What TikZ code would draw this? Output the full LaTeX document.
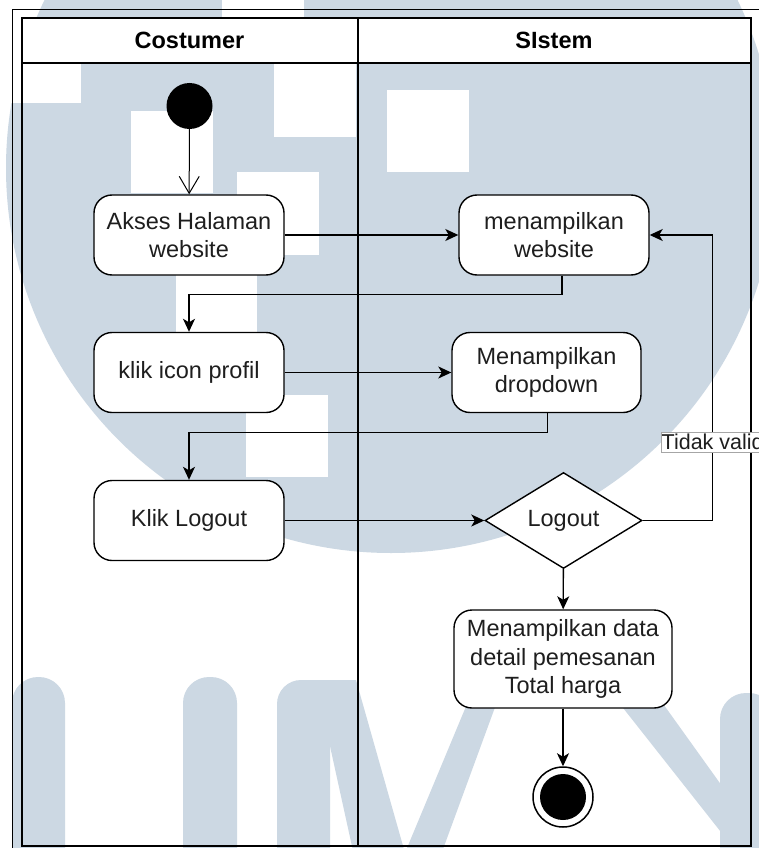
\documentclass[tikz,border=0pt]{standalone}
\usepackage{fontspec}
\setmainfont{Liberation Sans}
\usetikzlibrary{arrows.meta,shapes.geometric}
\definecolor{wmblue}{RGB}{204,216,227}
\definecolor{ink}{RGB}{30,30,30}
\begin{document}
\begin{tikzpicture}[x=1pt,y=-1pt,
  every node/.style={font=\fontsize{23.5}{28.2}\selectfont, text=ink},
  act/.style={draw=black, line width=1.4pt, fill=white, rounded corners=18pt,
    minimum width=190pt, minimum height=80pt, align=center, inner sep=0pt},
  decision/.style={diamond, draw=black, line width=1.4pt, fill=white,
    minimum width=157pt, minimum height=96pt, inner sep=0pt},
  startdot/.style={circle, fill=black, minimum size=46pt, inner sep=0pt},
  endring/.style={circle, draw=black, line width=1.5pt, fill=white, minimum size=60pt, inner sep=0pt},
  enddot/.style={circle, fill=black, minimum size=46pt, inner sep=0pt},
  hdr/.style={font=\bfseries\fontsize{23.5}{28}\selectfont, text=black},
  lbl/.style={font=\fontsize{21.5}{24}\selectfont, fill=white, draw=black!35,
    line width=0.6pt, inner xsep=0.5pt, inner ysep=2pt},
  flow/.style={draw=black, line width=1.4pt, -{Stealth[length=13pt,width=12pt,inset=3.5pt]}},
  openflow/.style={draw=black, line width=1pt, -{Straight Barb[length=17pt,width=20pt]}},
  frame/.style={draw=black, line width=2pt}
]
\useasboundingbox (0,0) rectangle (758,848);
\fill[white] (0,0) rectangle (758,848);

% faint logo watermark behind the diagram
\begin{scope}
  \fill[wmblue] (391,168) circle[radius=385pt];
  \fill[white] (-10,21) rectangle (81,103);
  \fill[white] (222,-60) rectangle (304,22);
  \fill[white] (274,55) rectangle (356,137);
  \fill[white] (131,111) rectangle (213,193);
  \fill[white] (387,90) rectangle (469,172);
  \fill[white] (237,172) rectangle (319,255);
  \fill[white] (176,255) rectangle (257,337);
  \fill[white] (246,395) rectangle (328,477);
  % letters U, M, N
  \fill[wmblue, rounded corners=26pt] (12,900) -- (12,677) -- (65,677) -- (65,900) -- cycle;
  \fill[wmblue, rounded corners=26pt] (183,900) -- (183,677) -- (237,677) -- (237,900) -- cycle;
  \fill[wmblue, rounded corners=24pt] (277,900) -- (277,680) -- (330,680) -- (330,900) -- cycle;
  \fill[wmblue] (300,680) -- (356,680) -- (407,860) -- (355,860) -- (328,737) -- (300,737) -- cycle;
  \fill[wmblue] (402,860) -- (477,680) -- (505,680) -- (439,860) -- cycle;
  \fill[wmblue] (601,680) -- (646,680) -- (775,860) -- (743,860) -- cycle;
  \fill[wmblue, rounded corners=26pt] (720,900) -- (720,693) -- (775,693) -- (775,900) -- cycle;
\end{scope}

% outer page frame
\draw[line width=0.8pt] (12,870) -- (12,9) -- (780,9);

% swimlane pool
\fill[white] (22,18) rectangle (751,63);
\draw[frame] (22,63) -- (751,63);
\draw[frame] (357.5,18) -- (357.5,846);
\draw[frame] (22,18) rectangle (751,846);
\node[hdr] (laneA) at (189.5,40.5) {Costumer};
\node[hdr] (laneB) at (554,40.5) {SIstem};

% activities
\node[startdot] (start) at (189.5,106) {};
\node[act] (akses) at (189,235) {Akses Halaman\\website};
\node[act] (tampil) at (554,235) {menampilkan\\website};
\node[act] (klik) at (189,372.5) {klik icon profil};
\node[act, minimum width=189pt] (drop) at (546.5,372.5) {Menampilkan\\dropdown};
\node[act] (klogout) at (189,520.5) {Klik Logout};
\node[decision] (dec) at (563.5,520.5) {Logout};
\node[act, minimum width=218pt, minimum height=98pt] (data) at (563,659) {Menampilkan data\\detail pemesanan\\Total harga};
\node[endring] (finish) at (563,797) {};
\node[enddot] (finishdot) at (563,797) {};

% flows
\draw[openflow] (start) -- (akses);
\draw[flow] (akses) -- (tampil);
\draw[flow] ([xshift=8pt]tampil.south) -- ++(0,19) -| (klik.north);
\draw[flow] (klik) -- (drop);
\draw[flow] ([xshift=1pt]drop.south) -- ++(0,19.5) -| (klogout.north);
\draw[flow] (klogout) -- (dec);
\draw[flow] (dec.east) -- ++(70,0) |- node[lbl, pos=0.137] {Tidak valid} (tampil.east);
\draw[flow] (dec) -- (data);
\draw[flow] (data) -- (finish);
\end{tikzpicture}
\end{document}
